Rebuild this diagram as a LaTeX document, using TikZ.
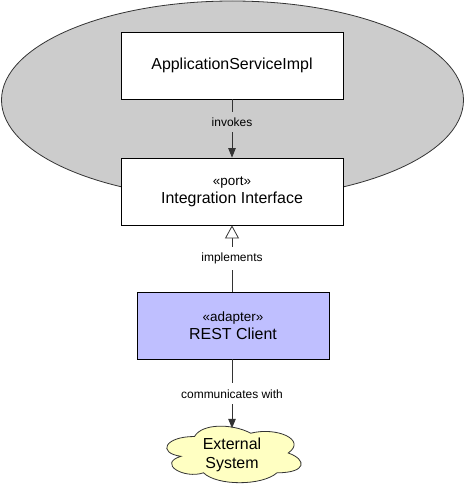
\documentclass[tikz,border=0pt]{standalone}
\usepackage{fontspec}
\setmainfont{Liberation Sans}
\usetikzlibrary{arrows.meta}
\definecolor{ellfill}{HTML}{CCCCCC}
\definecolor{adapterfill}{HTML}{BFBFFF}
\definecolor{cloudfill}{HTML}{FFFFC2}
\definecolor{linecol}{HTML}{333333}
\tikzset{
  box/.style={draw=black, line width=0.8bp, fill=white, minimum width=222bp, minimum height=67bp, inner sep=0pt, align=center, font=\fontsize{16}{18}\selectfont},
  lbl/.style={font=\fontsize{12}{14}\selectfont, inner xsep=2bp, inner ysep=6bp, fill=white},
  conn/.style={draw=linecol, line width=0.8bp},
  solidhead/.style={-{Triangle[length=9.5bp,width=7.5bp]}},
  openhead/.style={-{Triangle[open,length=13bp,width=14bp,fill=white]}},
  stereo/.style={font=\fontsize{13.5}{18}\selectfont}
}
\begin{document}
\begin{tikzpicture}[x=1bp,y=-1bp]
\useasboundingbox (0,0) rectangle (465,485);
% container ellipse
\draw[fill=ellfill, draw=linecol, line width=0.8bp] (232.5,100) ellipse [x radius=231, y radius=99];
% nodes
\node[box] (app) at (232,65.5) {ApplicationServiceImpl};
\node[box] (port) at (232,191.5) {{\fontsize{13.5}{18}\selectfont «port»}\\Integration Interface};
\node[box, fill=adapterfill, minimum width=192bp] (adapter) at (233,325.5) {{\fontsize{13.5}{18}\selectfont «adapter»}\\REST Client};
% cloud
\begin{scope}[shift={(157,420)}, x=150bp, y=-66bp]
\draw[fill=cloudfill, draw=linecol, line width=0.8bp]
  (0.25,0.25) .. controls (0.05,0.25) and (0,0.5) .. (0.16,0.55)
  .. controls (0,0.66) and (0.18,0.9) .. (0.31,0.8)
  .. controls (0.4,1) and (0.7,1) .. (0.8,0.8)
  .. controls (1,0.8) and (1,0.6) .. (0.875,0.5)
  .. controls (1,0.3) and (0.8,0.1) .. (0.625,0.2)
  .. controls (0.5,0.05) and (0.3,0.05) .. (0.25,0.25) -- cycle;
\end{scope}
\node[minimum width=120bp, minimum height=56bp, inner sep=0pt, align=center, font=\fontsize{16}{18.5}\selectfont] (ext) at (232,455) {External\\System};
% connectors
\draw[conn, solidhead] (app.south) -- node[lbl, fill=ellfill, pos=0.39] (l1) {invokes} (port.north);
\draw[conn, openhead] (adapter.north -| port.south) -- node[lbl, pos=0.5] (l2) {implements} (port.south);
\draw[conn, solidhead] (adapter.south -| ext.north) -- node[lbl, pos=0.5] (l3) {communicates with} ([yshift=-1.5bp]ext.north);
\end{tikzpicture}
\end{document}
